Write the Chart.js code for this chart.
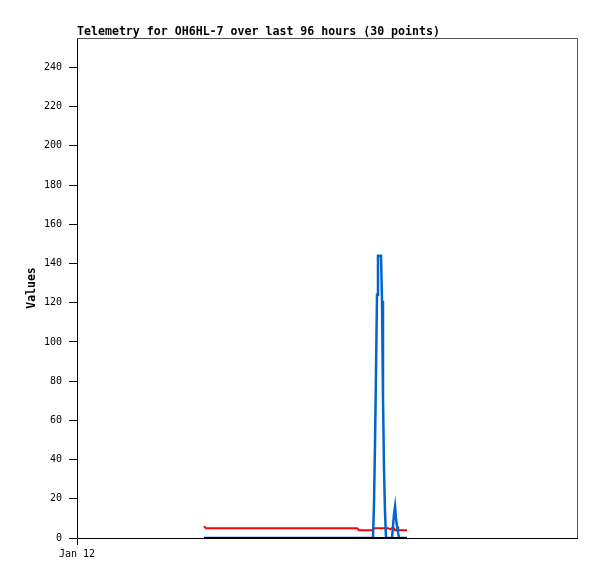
<!DOCTYPE html>
<html>
<head>
<meta charset="utf-8">
<script src="https://cdn.jsdelivr.net/npm/chart.js@4.4.1/dist/chart.umd.min.js"></script>
<style>
  body { margin: 0; background: #fff; }
  canvas { display: block; }
</style>
</head>
<body>
<canvas id="telemetry" width="597" height="579"></canvas>
<script>
// hours since Jan 12 00:00 (window = 96 h)
const hours = [24.38, 24.77, 53.76, 54.14, 56.83, 57.02, 57.22, 57.41, 57.60, 57.79,
               58.37, 58.56, 58.75, 58.94, 59.14, 59.33, 59.71, 60.10, 60.48, 60.67,
               60.86, 61.06, 61.25, 61.44, 61.63, 61.82, 62.02, 62.40, 62.98, 63.36];
const redValues = [6, 5, 5, 4, 4, 5, 5, 5, 5, 5,
                   5, 5, 5, 5, 5, 5, 5, 4.5, 5, 5,
                   5, 4, 4, 4, 4, 4, 4, 4, 4, 4];
const blueValues = [0, 0, 0, 0, 0, 17, 48, 85, 124, 144,
                    144, 121, 72, 36, 13, 0, 0, 0, 0, 0,
                    12, 16, 10, 6, 3, 0, 0, 0, 0, 0];
const blackValues = [0, 0, 0, 0, 0, 0, 0, 0, 0, 0,
                     0, 0, 0, 0, 0, 0, 0, 0, 0, 0,
                     0, 0, 0, 0, 0, 0, 0, 0, 0, 0];
const xTickLabels = { 0: 'Jan 12' };
const yTicks = [0, 20, 40, 60, 80, 100, 120, 140, 160, 180, 200, 220, 240];
const titleText = 'Telemetry for OH6HL-7 over last 96 hours (30 points)';

const pts = vals => hours.map((h, i) => ({ x: h, y: vals[i] }));

// frame round the plot + title at top-left
const framePlugin = {
  id: 'frame',
  afterDraw(chart) {
    const { ctx, chartArea: a } = chart;
    ctx.save();
    ctx.strokeStyle = '#555';
    ctx.lineWidth = 1;
    ctx.beginPath();
    ctx.moveTo(a.left, a.top + 0.5);
    ctx.lineTo(a.right + 0.5, a.top + 0.5);
    ctx.lineTo(a.right + 0.5, a.bottom);
    ctx.stroke();
    ctx.fillStyle = '#000';
    ctx.font = 'bold 11.6px "DejaVu Sans Mono"';
    ctx.textBaseline = 'alphabetic';
    ctx.fillText(titleText, a.left, 35);
    ctx.restore();
  }
};

new Chart(document.getElementById('telemetry'), {
  type: 'line',
  data: {
    datasets: [
      { data: pts(blackValues), borderColor: '#000000', borderWidth: 2 },
      { data: pts(blueValues), borderColor: '#0066cc', borderWidth: 2.5 },
      { data: pts(redValues), borderColor: '#ff0000', borderWidth: 2 }
    ]
  },
  options: {
    responsive: false,
    animation: false,
    layout: { padding: { top: 38, right: 20, left: 0, bottom: 0 } },
    elements: { point: { radius: 0 }, line: { tension: 0 } },
    plugins: { legend: { display: false }, tooltip: { enabled: false } },
    scales: {
      x: {
        type: 'linear',
        min: 0,
        max: 96,
        afterFit: s => { s.height = 41; },
        afterBuildTicks: s => { s.ticks = [{ value: 0 }]; },
        border: { color: '#000' },
        grid: { drawOnChartArea: false, tickLength: 7, color: '#000' },
        ticks: {
          padding: 3,
          maxRotation: 0,
          color: '#000',
          font: { family: 'DejaVu Sans Mono', size: 10 },
          callback: v => xTickLabels[v]
        }
      },
      y: {
        min: 0,
        max: 255,
        afterFit: s => { s.width = 77; },
        afterBuildTicks: s => { s.ticks = yTicks.map(v => ({ value: v })); },
        border: { color: '#000' },
        grid: { drawOnChartArea: false, tickLength: 8, color: '#000' },
        ticks: {
          padding: 7,
          color: '#000',
          font: { family: 'DejaVu Sans Mono', size: 10 }
        },
        title: {
          display: true,
          text: 'Values',
          color: '#000',
          padding: { top: 25, bottom: 0 },
          font: { family: 'DejaVu Sans Mono', size: 11.5, weight: 'bold' }
        }
      }
    }
  },
  plugins: [framePlugin]
});
</script>
</body>
</html>
